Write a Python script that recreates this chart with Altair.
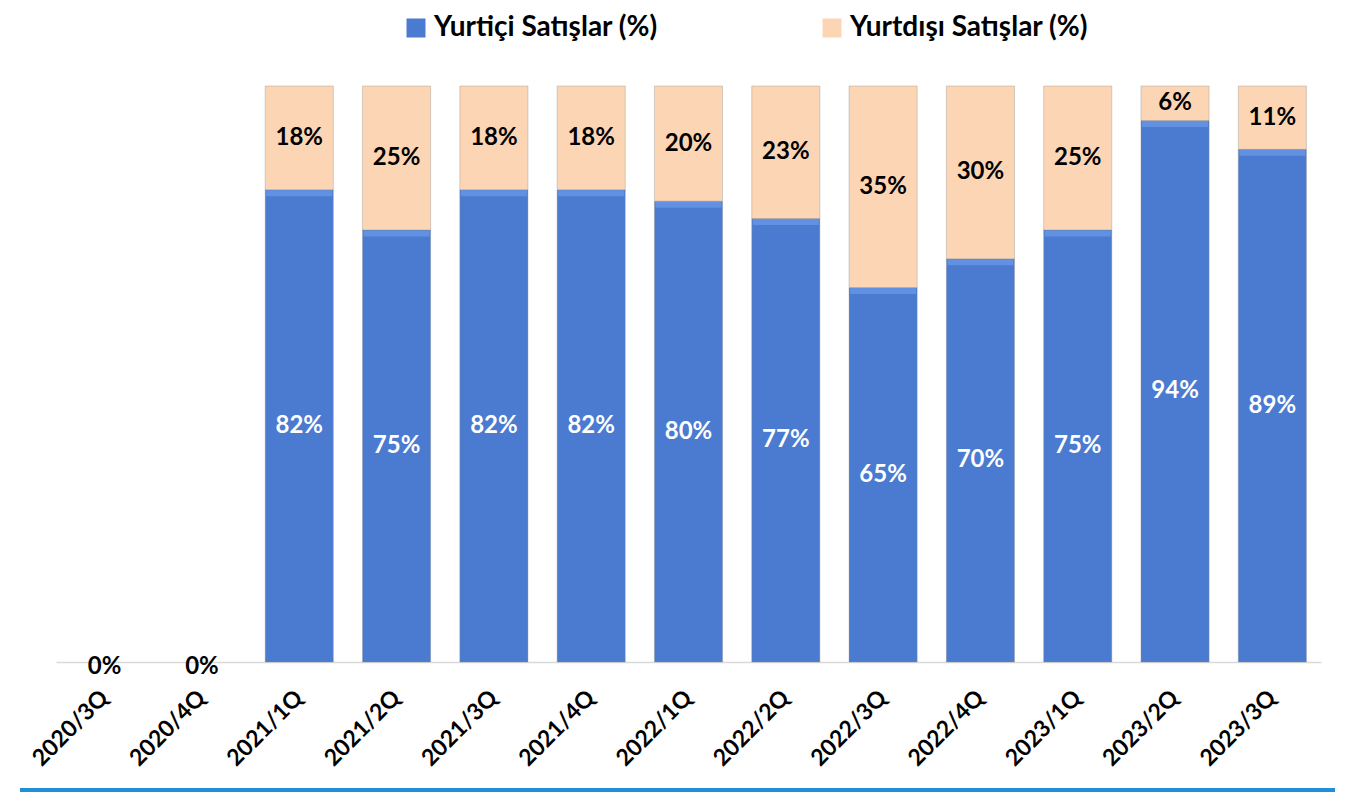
import altair as alt
import pandas as pd

quarters = ["2020/3Q", "2020/4Q", "2021/1Q", "2021/2Q", "2021/3Q", "2021/4Q",
            "2022/1Q", "2022/2Q", "2022/3Q", "2022/4Q", "2023/1Q", "2023/2Q", "2023/3Q"]
domestic = [0, 0, 82, 75, 82, 82, 80, 77, 65, 70, 75, 94, 89]
foreign = [0, 0, 18, 25, 18, 18, 20, 23, 35, 30, 25, 6, 11]
series = ["Yurtiçi Satışlar (%)", "Yurtdışı Satışlar (%)"]
colors = ["#4a7bd0", "#fcd5b5"]

rows = []
for q, d, f in zip(quarters, domestic, foreign):
    rows.append({"q": q, "s": series[0], "v": d, "o": 0, "mid": d / 2, "lab": f"{d}%"})
    rows.append({"q": q, "s": series[1], "v": f, "o": 1, "mid": d + f / 2, "lab": f"{f}%"})
df = pd.DataFrame(rows)

FONT = "Lato"

x = alt.X("q:N", sort=quarters, title=None,
          scale=alt.Scale(domain=quarters, paddingInner=0.3, paddingOuter=0.15),
          axis=alt.Axis(labelAngle=-45, labelAlign="right", labelBaseline="middle",
                        labelFontSize=23, labelFont=FONT, labelFontWeight="bold",
                        labelColor="#000000", labelPadding=32, ticks=False,
                        domainColor="#d9d9d9", domainWidth=1.5, labelLimit=300))
y_scale = alt.Scale(domain=[0, 100], nice=False)

bars = alt.Chart(df).transform_filter("datum.v > 0").mark_bar(
    stroke="#8a8a8a", strokeWidth=0.6, strokeOpacity=0.6
).encode(
    x=x,
    y=alt.Y("v:Q", stack="zero", scale=y_scale, axis=None),
    color=alt.Color("s:N", scale=alt.Scale(domain=series, range=colors),
                    legend=alt.Legend(title=None, orient="none", legendX=346, legendY=-72,
                                      direction="horizontal", symbolType="square",
                                      symbolSize=361, symbolStrokeWidth=0,
                                      labelFontSize=28, labelFont=FONT,
                                      labelFontWeight="bold", labelColor="#000000",
                                      columnPadding=160, labelOffset=4, labelLimit=400)),
    order=alt.Order("o:Q", sort="ascending"),
)

highlight = alt.Chart(df).transform_filter("datum.o == 0 && datum.v > 0").mark_tick(
    color="#6594e3", thickness=6, size=66, yOffset=3.5, opacity=0.9
).encode(x=alt.X("q:N", sort=quarters), y=alt.Y("v:Q", scale=y_scale))

dom_text = alt.Chart(df).transform_filter("datum.o == 0 && datum.v > 0").mark_text(
    font=FONT, fontSize=24, fontWeight="bold", color="#ffffff", baseline="middle"
).encode(x=alt.X("q:N", sort=quarters), y=alt.Y("mid:Q", scale=y_scale), text="lab:N")

for_text = alt.Chart(df).transform_filter("datum.o == 1 && datum.v > 0").mark_text(
    font=FONT, fontSize=24, fontWeight="bold", color="#000000", baseline="middle"
).encode(x=alt.X("q:N", sort=quarters), y=alt.Y("mid:Q", scale=y_scale), text="lab:N")

zero_text = alt.Chart(df).transform_filter("datum.o == 0 && datum.v == 0").mark_text(
    font=FONT, fontSize=24, fontWeight="bold", color="#000000", baseline="middle", dy=5
).encode(x=alt.X("q:N", sort=quarters), y=alt.Y("v:Q", scale=y_scale), text="lab:N")

bottom_line = alt.Chart(df).mark_rule(color="#1f8fd8", strokeWidth=3).encode(
    x=alt.value(-36), x2=alt.value(1279), y=alt.value(704))

chart = alt.layer(bars, highlight, dom_text, for_text, zero_text, bottom_line).properties(
    width=1265, height=576,
    autosize=alt.AutoSizeParams(type="none"),
    padding={"left": 48, "top": 78, "right": 30, "bottom": 130},
).configure_view(stroke=None)

chart.save("out.html", embed_options={"renderer": "svg", "actions": False})
